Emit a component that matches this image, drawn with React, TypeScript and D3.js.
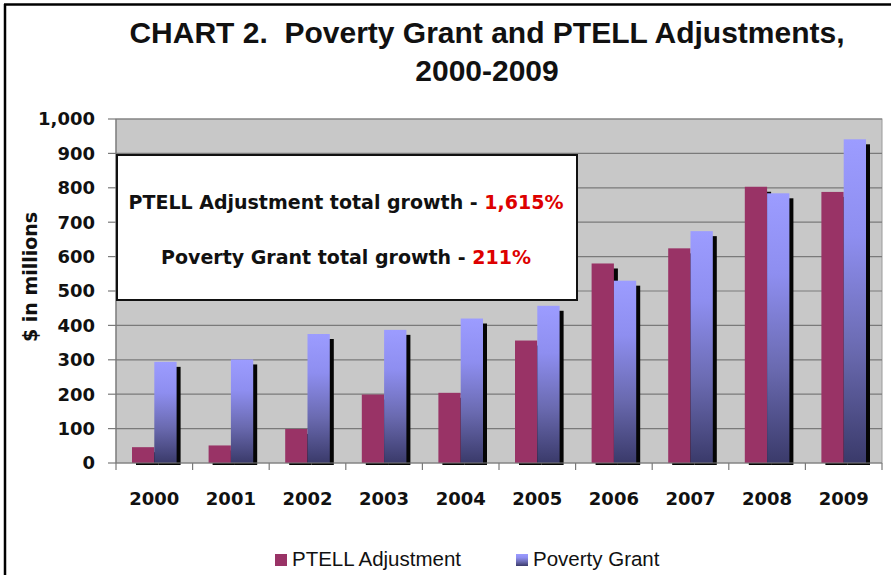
import React from "react";
import * as d3 from "d3";

const years = ["2000", "2001", "2002", "2003", "2004", "2005", "2006", "2007", "2008", "2009"];
const ptell = [46, 51, 99, 199, 204, 356, 580, 624, 803, 788];
const poverty = [294, 301, 375, 387, 420, 457, 530, 674, 784, 941];
const yTicks = [0, 100, 200, 300, 400, 500, 600, 700, 800, 900, 1000];
const seriesNames = ["PTELL Adjustment", "Poverty Grant"];
const titleLines = ["CHART 2.  Poverty Grant and PTELL Adjustments,", "2000-2009"];
const noteLines = [
  { label: "PTELL Adjustment total growth - ", value: "1,615%" },
  { label: "Poverty Grant total growth - ", value: "211%" },
];

const W = 891;
const H = 575;
const PL = 116, PR = 882, PT = 119, PB = 463;

export default function App() {
  const x = d3.scaleBand<string>().domain(years).range([PL, PR]);
  const bw = x.bandwidth();
  const inner = d3.scaleBand<string>().domain(seriesNames).range([16, bw - 16]);
  const y = d3.scaleLinear().domain([0, 1000]).range([PB, PT]);
  const fmt = d3.format(",");
  const numFont = "'DejaVu Sans', sans-serif";
  const data = [ptell, poverty];
  const fills = ["#993366", "url(#povGrad)"];

  return (
    <svg width={W} height={H} style={{ position: "absolute", left: 0, top: 0, background: "#fff" }}>
      <defs>
        <linearGradient id="povGrad" x1="0" y1="0" x2="0" y2="1">
          <stop offset="0" stopColor="#9c9cff" />
          <stop offset="0.3" stopColor="#8e8ef0" />
          <stop offset="0.65" stopColor="#6a6ab0" />
          <stop offset="1" stopColor="#3a3a6a" />
        </linearGradient>
        <clipPath id="shadowClip">
          <rect x={PL} y={PT - 20} width={PR - PL + 10} height={PB - PT + 22} />
        </clipPath>
      </defs>
      {/* outer frame */}
      <line x1={5} y1={4} x2={5} y2={H} stroke="#000" strokeWidth={2.5} />
      <line x1={4} y1={4.5} x2={W} y2={4.5} stroke="#000" strokeWidth={2.5} />

      {/* title */}
      {titleLines.map((t, i) => (
        <text key={i} x={487} y={43 + i * 38} textAnchor="middle" fontFamily="'Liberation Sans', Arial, sans-serif"
          fontWeight="bold" fontSize={30} fill="#111" style={{ whiteSpace: "pre" }}>{t}</text>
      ))}

      {/* plot area */}
      <rect x={PL} y={PT} width={PR - PL} height={PB - PT} fill="#c8c8c8" stroke="#9a9a9a" strokeWidth={1} />
      {yTicks.map((t) => (
        <g key={t}>
          {t > 0 && <line x1={PL} x2={PR} y1={y(t)} y2={y(t)} stroke="#7a7a7a" strokeWidth={1.2} />}
          <line x1={PL - 8} x2={PL} y1={y(t)} y2={y(t)} stroke="#7a7a7a" strokeWidth={1.2} />
          <text x={95} y={y(t)} dy="0.36em" textAnchor="end" fontFamily={numFont} fontWeight="bold" fontSize={18} fill="#111">{fmt(t)}</text>
        </g>
      ))}

      {/* shadows */}
      <g clipPath="url(#shadowClip)">
        {years.map((yr, i) =>
          data.map((arr, s) => (
            <rect key={yr + s} x={(x(yr) as number) + (inner(seriesNames[s]) as number) + 4} y={y(arr[i]) + 5}
              width={inner.bandwidth()} height={PB - y(arr[i])} fill="#050505" />
          ))
        )}
      </g>
      {/* bars */}
      {years.map((yr, i) =>
        data.map((arr, s) => (
          <rect key={yr + "b" + s} x={(x(yr) as number) + (inner(seriesNames[s]) as number)} y={y(arr[i])}
            width={inner.bandwidth()} height={PB - y(arr[i])} fill={fills[s]} />
        ))
      )}

      {/* axes */}
      <line x1={PL} x2={PL} y1={PT} y2={PB} stroke="#7a7a7a" strokeWidth={1.2} />
      <line x1={PL} x2={PR} y1={PB} y2={PB} stroke="#7a7a7a" strokeWidth={1.2} />
      {[...years.map((yr) => x(yr) as number), PR].map((xx, i) => (
        <line key={i} x1={xx} x2={xx} y1={PB} y2={PB + 7} stroke="#7a7a7a" strokeWidth={1.2} />
      ))}
      {years.map((yr) => (
        <text key={yr} x={(x(yr) as number) + bw / 2} y={505} textAnchor="middle" fontFamily={numFont}
          fontWeight="bold" fontSize={18} fill="#111">{yr}</text>
      ))}
      <text transform={`translate(37,277) rotate(-90)`} textAnchor="middle" fontFamily={numFont}
        fontWeight="bold" fontSize={19} fill="#111">$ in millions</text>

      {/* annotation box */}
      <rect x={117} y={155} width={460} height={145} fill="#fff" stroke="#111" strokeWidth={2} />
      {noteLines.map((n, i) => (
        <text key={i} x={346} y={209 + i * 55} textAnchor="middle" fontFamily={numFont} fontWeight="bold" fontSize={19} fill="#111">
          {n.label}<tspan fill="#dd0000">{n.value}</tspan>
        </text>
      ))}

      {/* legend */}
      {seriesNames.map((s, i) => {
        const lx = [275, 516][i];
        return (
          <g key={s}>
            <rect x={lx} y={554} width={12} height={12} fill={fills[i]} />
            <text x={lx + 17} y={566} fontFamily="'Liberation Sans', Arial, sans-serif" fontSize={20.5} fill="#111">{s}</text>
          </g>
        );
      })}
    </svg>
  );
}
